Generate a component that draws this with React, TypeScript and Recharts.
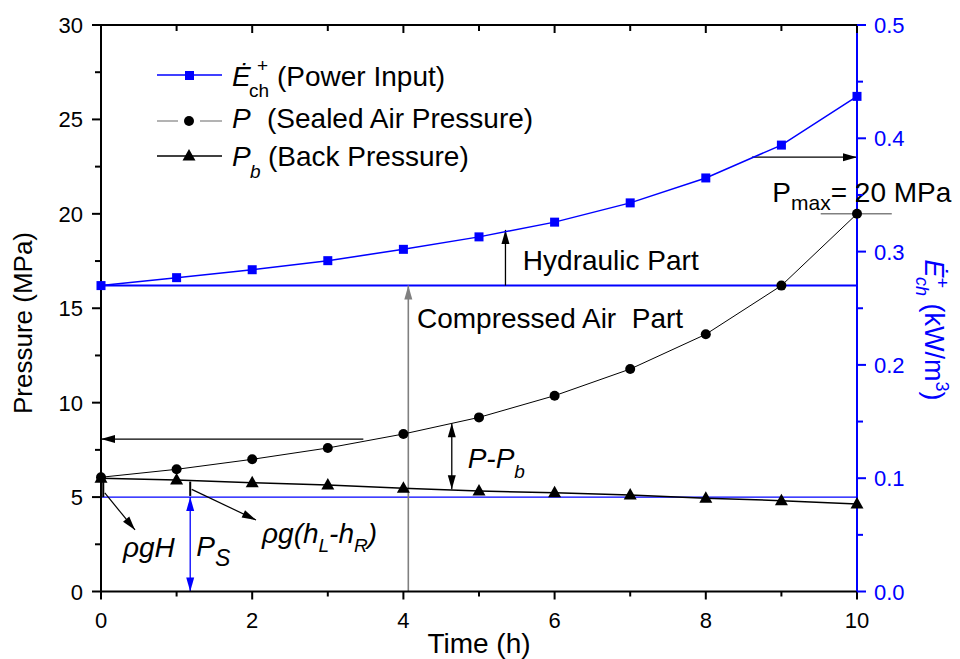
import React from 'react';
import { ComposedChart, Line, XAxis, YAxis, ReferenceLine, ReferenceDot, Legend } from 'recharts';

// time (h)
const hours = [0, 1, 2, 3, 4, 5, 6, 7, 8, 9, 10];
// power input, kW/m3 (right axis)
const powerInput = [0.27, 0.277, 0.284, 0.292, 0.302, 0.313, 0.326, 0.343, 0.365, 0.394, 0.437];
// sealed air pressure P, MPa
const sealedPressure = [6.05, 6.47, 7.0, 7.6, 8.34, 9.22, 10.37, 11.78, 13.62, 16.2, 20.0];
// back pressure Pb, MPa
const backPressure = [6.0, 5.9, 5.76, 5.64, 5.47, 5.32, 5.23, 5.11, 4.94, 4.81, 4.63];

const xTicks = [0, 1, 2, 3, 4, 5, 6, 7, 8, 9, 10];
const leftTicks = [0, 2.5, 5, 7.5, 10, 12.5, 15, 17.5, 20, 22.5, 25, 27.5, 30];
const rightTicks = [0, 0.05, 0.1, 0.15, 0.2, 0.25, 0.3, 0.35, 0.4, 0.45, 0.5];

const hydraulicBase = 0.27; // kW/m3
const supplyPressure = 5; // MPa, P_S

const data = hours.map((t, i) => ({
  t,
  power: powerInput[i],
  p: sealedPressure[i],
  pb: backPressure[i],
}));

const FONT = '"Liberation Sans", Arial, sans-serif';
const BLUE = '#0000ff';
const GRAY = '#808080';

// arrows and guide lines, in data units of the left axis
type Seg = { from: [number, number]; to: [number, number]; color: string; w: number; heads: 0 | 1 | 2 };
const segments: Seg[] = [
  { from: [3.47, 8.07], to: [0, 8.07], color: '#000', w: 1.3, heads: 1 },
  { from: [8.61, 23.0], to: [10, 23.0], color: '#000', w: 1.3, heads: 1 },
  { from: [4.065, 0], to: [4.065, 16.2], color: GRAY, w: 1.6, heads: 1 },
  { from: [5.35, 16.2], to: [5.35, 19.15], color: '#000', w: 1.3, heads: 1 },
  { from: [4.64, 8.91], to: [4.64, 5.41], color: '#000', w: 1.3, heads: 2 },
  { from: [0.05, 5.22], to: [0.45, 3.26], color: '#000', w: 1.2, heads: 1 },
  { from: [1.2, 5.41], to: [2.05, 3.79], color: '#000', w: 1.2, heads: 1 },
  { from: [1.18, 5.0], to: [1.18, 0], color: BLUE, w: 1.3, heads: 2 },
  { from: [0.03, 6.0], to: [0.03, 5.0], color: '#000', w: 2, heads: 0 },
  { from: [1.18, 5.82], to: [1.18, 5.06], color: '#000', w: 2, heads: 0 },
  { from: [9.52, 20], to: [10.46, 20], color: GRAY, w: 1.5, heads: 0 },
];

const arrowShape = (color: string, width: number, heads: number) => (props: any) => {
  const { x1, y1, x2, y2 } = props;
  const dx = x2 - x1;
  const dy = y2 - y1;
  const d = Math.hypot(dx, dy) || 1;
  const ux = dx / d;
  const uy = dy / d;
  const len = 14;
  const half = 4;
  const head = (tx: number, ty: number, sx: number, sy: number) => {
    const bx = tx - sx * len;
    const by = ty - sy * len;
    return `${tx},${ty} ${bx - sy * half},${by + sx * half} ${bx + sy * half},${by - sx * half}`;
  };
  return (
    <g>
      <line x1={x1} y1={y1} x2={x2} y2={y2} stroke={color} strokeWidth={width} />
      {heads >= 1 && <polygon points={head(x2, y2, ux, uy)} fill={color} />}
      {heads === 2 && <polygon points={head(x1, y1, -ux, -uy)} fill={color} />}
    </g>
  );
};

const textStyle = { fontFamily: FONT, fontSize: 28, fill: '#000' };

const BottomTick = (props: any) => {
  const { x, y, payload } = props;
  const v = payload.value;
  const major = v % 2 === 0;
  return (
    <g>
      <line x1={x} x2={x} y1={y} y2={y + (major ? 8 : 5)} stroke="#000" strokeWidth={2} />
      {major && (
        <text x={x} y={y + 36} textAnchor="middle" style={{ fontFamily: FONT, fontSize: 22 }} fill="#000">
          {v}
        </text>
      )}
    </g>
  );
};

const TopTick = (props: any) => {
  const { x, y, payload } = props;
  const major = payload.value % 2 === 0;
  return <line x1={x} x2={x} y1={y} y2={y + (major ? 8 : 6)} stroke="#000" strokeWidth={2} />;
};

const LeftTick = (props: any) => {
  const { x, y, payload } = props;
  const v = payload.value;
  const major = v % 5 === 0;
  return (
    <g>
      <line x1={x} x2={x - (major ? 9 : 6)} y1={y} y2={y} stroke="#000" strokeWidth={2} />
      {major && (
        <text x={x - 18} y={y + 8} textAnchor="end" style={{ fontFamily: FONT, fontSize: 22 }} fill="#000">
          {v}
        </text>
      )}
    </g>
  );
};

const RightTick = (props: any) => {
  const { x, y, payload } = props;
  const v = payload.value;
  const major = Math.abs(v * 10 - Math.round(v * 10)) < 1e-6;
  return (
    <g>
      <line x1={x} x2={x + (major ? 9 : 6)} y1={y} y2={y} stroke={BLUE} strokeWidth={2} />
      {major && (
        <text x={x + 17} y={y + 8} textAnchor="start" style={{ fontFamily: FONT, fontSize: 22 }} fill={BLUE}>
          {v.toFixed(1)}
        </text>
      )}
    </g>
  );
};

const SquareDot = (props: any) => (
  <rect key={`s-${props.index}`} x={props.cx - 4.5} y={props.cy - 4.5} width={9} height={9} fill={BLUE} />
);
const CircleDot = (props: any) => <circle key={`c-${props.index}`} cx={props.cx} cy={props.cy} r={5} fill="#000" />;
const TriangleDot = (props: any) => (
  <polygon
    key={`t-${props.index}`}
    points={`${props.cx},${props.cy - 7} ${props.cx - 6.5},${props.cy + 4.5} ${props.cx + 6.5},${props.cy + 4.5}`}
    fill="#000"
  />
);

const LegendBox = () => (
  <svg width={420} height={120} style={{ display: 'block', overflow: 'visible' }}>
    <g style={{ fontFamily: FONT, fontSize: 28 }} fill="#000">
      <line x1={7} x2={72} y1={20} y2={20} stroke={BLUE} strokeWidth={1.5} />
      <rect x={35} y={16} width={9} height={9} fill={BLUE} />
      <text x={82} y={31} fontStyle="italic">Ė</text>
      <text x={107} y={17} fontSize={19}>+</text>
      <text x={99} y={42} fontSize={19}>ch</text>
      <text x={127} y={31}>(Power Input)</text>

      <line x1={7} x2={28} y1={66} y2={66} stroke={GRAY} strokeWidth={1.2} />
      <line x1={50} x2={72} y1={66} y2={66} stroke={GRAY} strokeWidth={1.2} />
      <circle cx={39} cy={66} r={5} fill="#000" />
      <text x={82} y={73} fontStyle="italic">P</text>
      <text x={117} y={73}>(Sealed Air Pressure)</text>

      <line x1={7} x2={72} y1={101} y2={101} stroke="#000" strokeWidth={1.5} />
      <polygon points="39,94 32.5,105.5 45.5,105.5" fill="#000" />
      <text x={82} y={111} fontStyle="italic">P</text>
      <text x={100} y={123} fontStyle="italic" fontSize={19}>b</text>
      <text x={118} y={111}>(Back Pressure)</text>
    </g>
  </svg>
);

const RightLabel = (props: any) => {
  const vb = props.viewBox || {};
  const cx = vb.x + 68;
  const cy = 330;
  return (
    <text
      transform={`translate(${cx}, ${cy}) rotate(90)`}
      textAnchor="middle"
      style={{ fontFamily: FONT, fontSize: 27 }}
      fill={BLUE}
    >
      <tspan fontStyle="italic">Ė</tspan>
      <tspan fontSize={18} dy={-11}>+</tspan>
      <tspan fontSize={18} fontStyle="italic" dx={-11} dy={20}>ch</tspan>
      <tspan dy={-9}> (kW/m</tspan>
      <tspan fontSize={18} dy={-11}>3</tspan>
      <tspan dy={11}>)</tspan>
    </text>
  );
};

const LeftLabel = () => (
  <text
    transform="translate(32, 323) rotate(-90)"
    textAnchor="middle"
    style={{ fontFamily: FONT, fontSize: 26 }}
    fill="#000"
  >
    Pressure (MPa)
  </text>
);

const label = (content: React.ReactNode, x: number, y: number, key: string) => (
  <ReferenceDot
    key={key}
    x={x}
    y={y}
    yAxisId="left"
    r={0}
    ifOverflow="visible"
    shape={(p: any) => (
      <text x={p.cx} y={p.cy} style={{ ...textStyle, whiteSpace: 'pre' }}>
        {content}
      </text>
    )}
  />
);

export default function App() {
  return (
    <div style={{ position: 'absolute', left: 0, top: 0, width: 960, height: 659, background: '#fff' }}>
      <ComposedChart width={960} height={659} data={data} margin={{ top: 5, right: 0, bottom: 0, left: 0 }}>
        <XAxis
          dataKey="t"
          type="number"
          domain={[0, 10]}
          ticks={xTicks}
          interval={0}
          height={67.5}
          tickSize={0}
          tickMargin={0}
          tick={<BottomTick />}
          axisLine={{ stroke: '#000', strokeWidth: 2 }}
          tickLine={false}
          label={{ value: 'Time (h)', position: 'insideBottom', offset: 6, style: { fontFamily: FONT, fontSize: 28, fill: '#000' } }}
        />
        <XAxis
          xAxisId="top"
          orientation="top"
          type="number"
          domain={[0, 10]}
          ticks={xTicks}
          interval={0}
          height={20}
          tickSize={0}
          tickMargin={0}
          tick={<TopTick />}
          axisLine={{ stroke: '#000', strokeWidth: 2 }}
          tickLine={false}
        />
        <YAxis
          yAxisId="left"
          type="number"
          domain={[0, 30]}
          ticks={leftTicks}
          interval={0}
          width={101}
          tickSize={0}
          tickMargin={0}
          tick={<LeftTick />}
          axisLine={{ stroke: '#000', strokeWidth: 2 }}
          tickLine={false}
          label={{ content: <LeftLabel /> }}
        />
        <YAxis
          yAxisId="right"
          orientation="right"
          type="number"
          domain={[0, 0.5]}
          ticks={rightTicks}
          interval={0}
          width={103}
          tickSize={0}
          tickMargin={0}
          tick={<RightTick />}
          axisLine={{ stroke: BLUE, strokeWidth: 2 }}
          tickLine={false}
          label={{ content: <RightLabel /> }}
        />

        <ReferenceLine yAxisId="right" y={hydraulicBase} stroke={BLUE} strokeWidth={2} ifOverflow="visible" />
        <ReferenceLine yAxisId="left" y={supplyPressure} stroke={BLUE} strokeWidth={1.3} ifOverflow="visible" />

        {segments.map((s, i) => (
          <ReferenceLine
            key={`seg-${i}`}
            yAxisId="left"
            segment={[
              { x: s.from[0], y: s.from[1] },
              { x: s.to[0], y: s.to[1] },
            ]}
            ifOverflow="visible"
            shape={arrowShape(s.color, s.w, s.heads)}
          />
        ))}

        <Line
          yAxisId="right"
          dataKey="power"
          stroke={BLUE}
          strokeWidth={1.5}
          dot={SquareDot}
          activeDot={false}
          isAnimationActive={false}
          name="Power Input"
        />
        <Line
          yAxisId="left"
          dataKey="p"
          stroke="#000"
          strokeWidth={1}
          dot={CircleDot}
          activeDot={false}
          isAnimationActive={false}
          name="Sealed Air Pressure"
        />
        <Line
          yAxisId="left"
          dataKey="pb"
          stroke="#000"
          strokeWidth={1.5}
          dot={TriangleDot}
          activeDot={false}
          isAnimationActive={false}
          name="Back Pressure"
        />

        {label('Hydraulic Part', 5.58, 17.03, 'hyd')}
        {label('Compressed Air  Part', 4.18, 13.95, 'comp')}
        {label(
          <>
            <tspan fontStyle="italic">P-P</tspan>
            <tspan fontStyle="italic" fontSize={19} dy={10}>b</tspan>
          </>,
          4.85,
          6.52,
          'ppb'
        )}
        {label(
          <>
            <tspan>P</tspan>
            <tspan fontSize={21} dy={8}>max</tspan>
            <tspan dy={-8}>= 20 MPa</tspan>
          </>,
          8.88,
          20.64,
          'pmax'
        )}
        {label(<tspan fontStyle="italic">ρgH</tspan>, 0.29, 1.84, 'rgh')}
        {label(
          <>
            <tspan fontStyle="italic">P</tspan>
            <tspan fontStyle="italic" fontSize={23} dy={10}>S</tspan>
          </>,
          1.26,
          1.88,
          'ps'
        )}
        {label(
          <>
            <tspan fontStyle="italic">ρg(h</tspan>
            <tspan fontStyle="italic" fontSize={19} dy={9}>L</tspan>
            <tspan fontStyle="italic" dy={-9}>-h</tspan>
            <tspan fontStyle="italic" fontSize={19} dy={9}>R</tspan>
            <tspan fontStyle="italic" dy={-9}>)</tspan>
          </>,
          2.13,
          2.55,
          'rgl'
        )}

        <Legend
          layout="vertical"
          align="center"
          verticalAlign="middle"
          wrapperStyle={{ left: 150, top: 55, width: 420, height: 120 }}
          content={() => <LegendBox />}
        />
      </ComposedChart>
    </div>
  );
}
